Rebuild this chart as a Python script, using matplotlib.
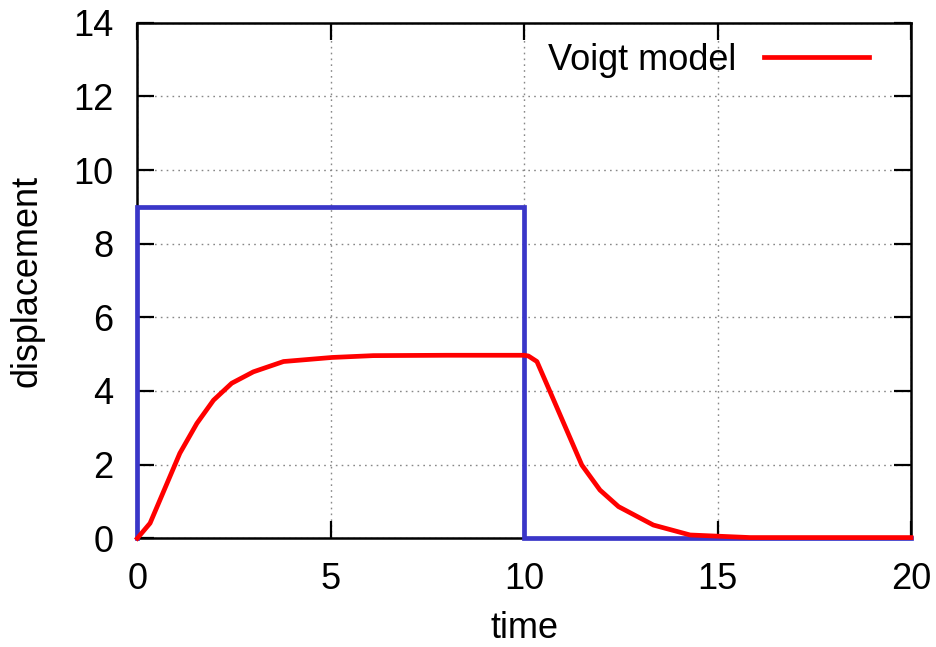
import matplotlib
matplotlib.use("Agg")
import matplotlib.pyplot as plt

plt.rcParams['font.family'] = ['Liberation Sans', 'DejaVu Sans']

# Load (step) input
load_t = [0, 0, 10, 10, 20]
load_y = [0, 9, 9, 0, 0]

# Voigt model response
voigt_t = [0, 0.33, 1.10, 1.54, 1.97, 2.44, 3.0, 3.78, 5.03, 6.10, 8.0, 10.0,
           10.11, 10.33, 10.67, 11.49, 11.96, 12.44, 13.34, 14.29, 15.84, 20.0]
voigt_y = [0, 0.41, 2.31, 3.12, 3.75, 4.21, 4.52, 4.80, 4.91, 4.96, 4.97, 4.97,
           4.95, 4.80, 3.98, 1.99, 1.31, 0.86, 0.36, 0.09, 0.02, 0.02]

xticks = [0, 5, 10, 15, 20]
yticks = [0, 2, 4, 6, 8, 10, 12, 14]

FS = 26

fig = plt.figure(figsize=(9.37, 6.47), dpi=100)
W, H = 937, 647
ax = fig.add_axes([137.3 / W, 1 - 538.3 / H, (911 - 137.3) / W, (538.3 - 22.7) / H])

ax.plot(load_t, load_y, color='#3a36c8', lw=3.4, solid_joinstyle='miter',
        zorder=3, clip_on=False)
ax.plot(voigt_t, voigt_y, color='#ff0000', lw=3.4, label='Voigt model',
        zorder=4, clip_on=False)

ax.set_xlim(0, 20)
ax.set_ylim(0, 14)
ax.set_xticks(xticks)
ax.set_yticks(yticks)
ax.grid(True, color='#888888', linestyle=(0, (1.2, 3)), linewidth=1.0)
ax.tick_params(direction='in', length=12, width=1.6, labelsize=FS, pad=17,
               top=True, right=True)
for s in ax.spines.values():
    s.set_linewidth(1.8)

ax.set_xlabel('time', fontsize=FS, labelpad=10)
ax.set_ylabel('displacement', fontsize=FS, labelpad=21)

ax.legend(loc='center right', bbox_to_anchor=((869 - 137.3) / (911 - 137.3), (538.3 - 60) / (538.3 - 22.7)),
          frameon=False, markerfirst=False, fontsize=FS, handlelength=2.9,
          handletextpad=0.78, borderpad=0, borderaxespad=0)

fig.savefig('out.png', dpi=100)
